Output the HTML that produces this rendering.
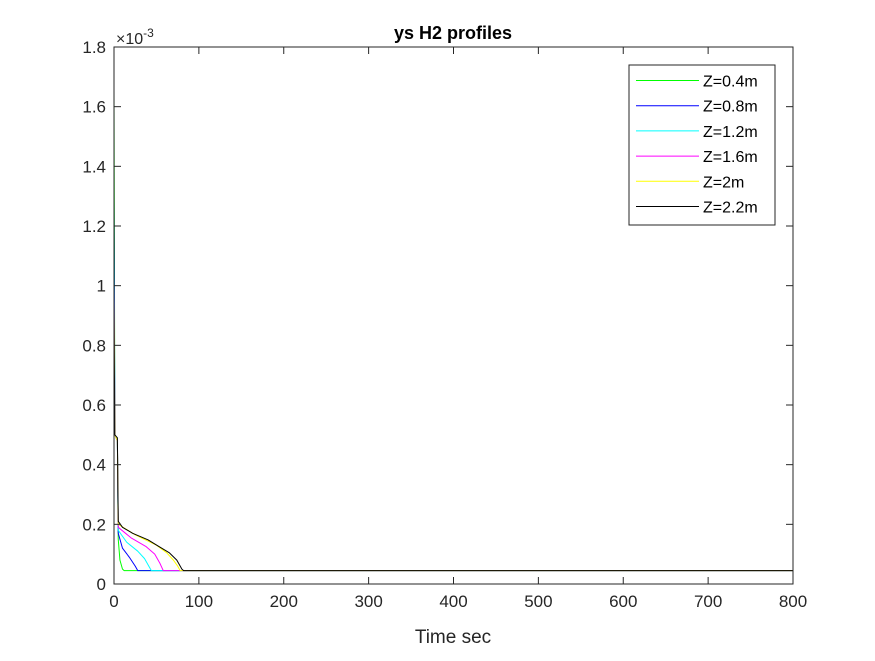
<!DOCTYPE html>
<html><head><meta charset="utf-8"><style>
body{margin:0;background:#fff;width:875px;height:656px;overflow:hidden}
svg{font-family:"Liberation Sans",Arial,sans-serif}
</style></head><body>
<svg id="chart" width="875" height="656" viewBox="0 0 875 656" xmlns="http://www.w3.org/2000/svg">
<rect width="875" height="656" fill="#fff"/>
<g id="plot"></g>
</svg>
<script>
const xTicks=[0,100,200,300,400,500,600,700,800];
const yTicks=[0,0.2,0.4,0.6,0.8,1,1.2,1.4,1.6,1.8];
const yTickLabels=["0","0.2","0.4","0.6","0.8","1","1.2","1.4","1.6","1.8"];
const seriesNames=["Z=0.4m","Z=0.8m","Z=1.2m","Z=1.6m","Z=2m","Z=2.2m"];
const seriesColors=["#00ff00","#0000ff","#00ffff","#ff00ff","#ffff00","#000000"];
const greenT=[0,1,4,5,7,10,12,800];
const greenV=[1.66,0.5,0.48,0.15,0.08,0.05,0.045,0.045];
const blueT=[0,1,4,5,10,18,25,28,800];
const blueV=[1.3,0.5,0.48,0.17,0.12,0.09,0.06,0.045,0.045];
const cyanT=[0,1,4,5,15,28,36,41,44,800];
const cyanV=[1.14,0.5,0.48,0.18,0.14,0.11,0.085,0.06,0.045,0.045];
const magentaT=[0,1,4,5,20,38,48,54,58,800];
const magentaV=[1.04,0.5,0.48,0.19,0.155,0.125,0.1,0.07,0.045,0.045];
const yellowT=[0,1,4,5,25,50,62,70,75,78,800];
const yellowV=[0.96,0.5,0.48,0.2,0.165,0.13,0.105,0.08,0.06,0.045,0.045];
const blackT=[0,1,4,5,10,22,40,54,65,74,80,82,800];
const blackV=[0.94,0.5,0.49,0.21,0.19,0.17,0.148,0.124,0.105,0.08,0.05,0.045,0.045];
const seriesT=[greenT,blueT,cyanT,magentaT,yellowT,blackT];
const seriesV=[greenV,blueV,cyanV,magentaV,yellowV,blackV];

const L=114,R=793,T=47,B=584;
const xs=v=>L+(v-0)/(800-0)*(R-L);
const ys=v=>B-(v-0)/(1.8-0)*(B-T);
const NS="http://www.w3.org/2000/svg";
const g=document.getElementById('plot');
function mk(tag,attrs,parent){const e=document.createElementNS(NS,tag);for(const k in attrs)e.setAttribute(k,attrs[k]);(parent||g).appendChild(e);return e;}

seriesT.forEach((ts,i)=>{
  const d=ts.map((t,j)=>(j?'L':'M')+xs(t).toFixed(2)+','+ys(seriesV[i][j]).toFixed(2)).join('');
  const p=mk('path',{d:d,fill:'none',stroke:seriesColors[i],'stroke-width':1,'stroke-linejoin':'round'});
  
  
});
const box=mk('rect',{x:L,y:T,width:R-L,height:B-T,fill:'none',stroke:'#262626','stroke-width':1});


xTicks.forEach(v=>{
  const x=xs(v);
  mk('line',{x1:x,y1:B,x2:x,y2:B-7,stroke:'#262626'});
  mk('line',{x1:x,y1:T,x2:x,y2:T+7,stroke:'#262626'});
  const t=mk('text',{x:x,y:B+23,'text-anchor':'middle','font-size':17,fill:'#262626'});
  t.textContent=v;
  
  
});
yTicks.forEach((v,i)=>{
  const y=ys(v);
  mk('line',{x1:L,y1:y,x2:L+7,y2:y,stroke:'#262626'});
  mk('line',{x1:R,y1:y,x2:R-7,y2:y,stroke:'#262626'});
  const t=mk('text',{x:L-8,y:y+6,'text-anchor':'end','font-size':17,fill:'#262626'});
  t.textContent=yTickLabels[i];
  
  
});
const ex=mk('text',{x:116,y:44,'font-size':16,fill:'#262626'});
ex.innerHTML='×10<tspan dy="-7" font-size="12">-3</tspan>';


const title=mk('text',{x:453,y:39,'text-anchor':'middle','font-size':18,'font-weight':'bold',fill:'#000'});
title.textContent='ys H2 profiles';


const xl=mk('text',{x:453,y:643,'text-anchor':'middle','font-size':19,fill:'#262626'});
xl.textContent='Time sec';


const lg=mk('g',{});


mk('rect',{x:629,y:65,width:146,height:160,fill:'#fff',stroke:'#262626','stroke-width':1},lg);
seriesNames.forEach((n,i)=>{
  const y=80.5+i*25.2;
  const e=mk('g',{},lg);
  
  
  mk('line',{x1:636,y1:y,x2:699,y2:y,stroke:seriesColors[i],'stroke-width':1},e);
  const t=mk('text',{x:703,y:y+6,'font-size':16,fill:'#000'},e);
  t.textContent=n;
});
</script>
</body></html>
